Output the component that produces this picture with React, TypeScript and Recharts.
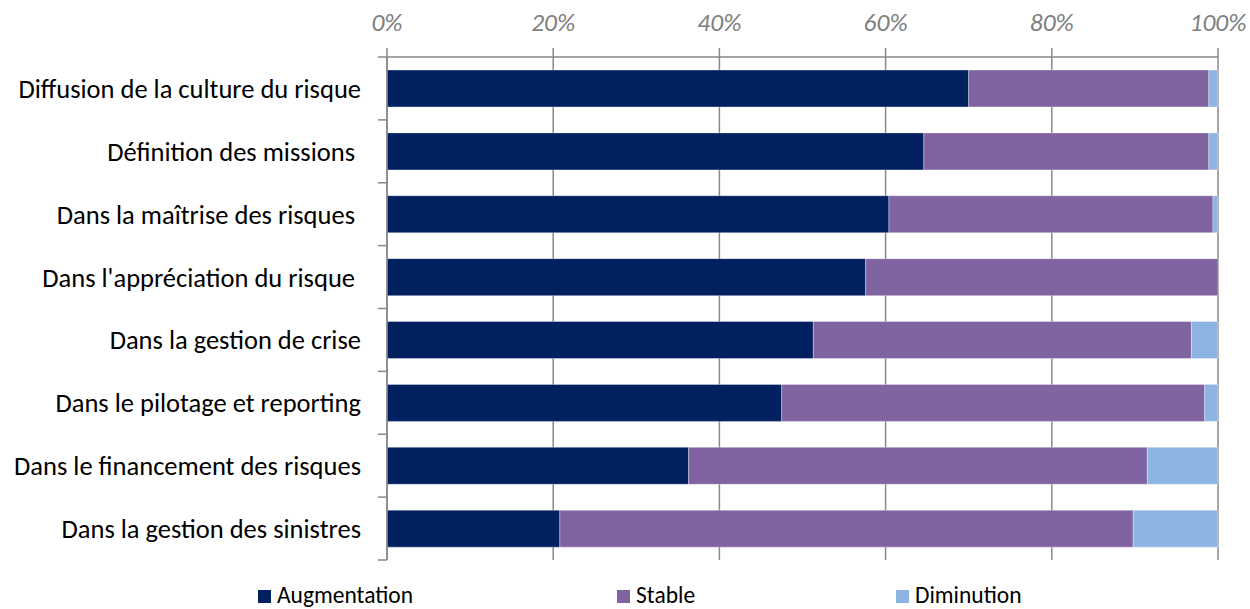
import React from 'react';
import { BarChart, Bar, XAxis, YAxis, CartesianGrid } from 'recharts';

const categories = [
    'Diffusion de la culture du risque',
    'Définition des missions\u00a0',
    'Dans la maîtrise des risques\u00a0',
    "Dans l'appréciation du risque\u00a0",
    'Dans la gestion de crise',
    'Dans le pilotage et reporting',
    'Dans le financement des risques',
    'Dans la gestion des sinistres',
];
const augmentation = [70.0, 64.6, 60.4, 57.6, 51.3, 47.5, 36.3, 20.8];
const stable = [28.9, 34.3, 39.0, 42.4, 45.5, 50.9, 55.2, 69.0];
const diminution = [1.1, 1.1, 0.6, 0, 3.2, 1.6, 8.5, 10.2];
const seriesNames = ['Augmentation', 'Stable', 'Diminution'];
const seriesColors = ['#002060', '#8064A2', '#8EB4E3'];
const xTicks = [0, 20, 40, 60, 80, 100];

const FONT = 'Carlito, Lato, sans-serif';
const AXIS_GREY = '#898989';

const data = categories.map((name, i) => ({
    name,
    a: augmentation[i],
    s: stable[i],
    d: diminution[i],
}));
const keys = ['a', 's', 'd'];

// Excel puts category ticks on the band edges, not centres
const CategoryTick: React.FC<any> = ({ x, y, payload, index, visibleTicksCount }) => {
    const half = payload && payload.offset ? payload.offset : 31.4;
    const axisX = x + 26;
    return (
        <g>
            <line x1={axisX - 9} x2={axisX} y1={y - half} y2={y - half} stroke={AXIS_GREY} strokeWidth={1.5} />
            {index === visibleTicksCount - 1 && (
                <line x1={axisX - 9} x2={axisX} y1={y + half} y2={y + half} stroke={AXIS_GREY} strokeWidth={1.5} />
            )}
            <text x={x} y={y} dy="0.36em" textAnchor="end" fontSize={26.5} fill="#000" fontFamily={FONT}>
                {payload.value}
            </text>
        </g>
    );
};

const legendWidths = [359, 279, 160];

const ChartLegend: React.FC = () => (
    <div style={{ position: 'absolute', left: 258, top: 583, display: 'flex', fontFamily: FONT, fontSize: 23.5, color: '#000' }}>
        {seriesNames.map((n, i) => (
            <div key={n} style={{ width: legendWidths[i], height: 24, display: 'flex', alignItems: 'center' }}>
                <span style={{ width: 13, height: 13, background: seriesColors[i], marginRight: 6, marginTop: 3, display: 'inline-block' }} />
                <span style={{ lineHeight: '24px' }}>{n}</span>
            </div>
        ))}
    </div>
);

export default function App() {
    return (
        <div style={{ position: 'absolute', left: 0, top: 0, width: 1250, height: 609, background: '#fff', overflow: 'hidden' }}>
            <BarChart
                width={1250}
                height={609}
                data={data}
                layout="vertical"
                margin={{ top: 0, right: 32, bottom: 49, left: 0 }}
                barSize={37}
            >
                <CartesianGrid horizontal={false} stroke={AXIS_GREY} strokeWidth={1.5} />
                <XAxis
                    type="number"
                    orientation="top"
                    domain={[0, 100]}
                    ticks={xTicks}
                    height={57}
                    tickSize={9}
                    tickMargin={17}
                    tickFormatter={(v: number) => `${v}%`}
                    tick={{ fill: '#7f7f7f', fontSize: 25.5, fontStyle: 'italic', fontFamily: FONT }}
                    axisLine={{ stroke: AXIS_GREY, strokeWidth: 1.5 }}
                    tickLine={{ stroke: AXIS_GREY, strokeWidth: 1.5 }}
                />
                <YAxis
                    type="category"
                    dataKey="name"
                    width={387}
                    tickSize={9}
                    tickMargin={17}
                    tickLine={false}
                    axisLine={{ stroke: AXIS_GREY, strokeWidth: 1.5 }}
                    tick={<CategoryTick />}
                    interval={0}
                />
                {keys.map((k, i) => (
                    <Bar
                        key={k}
                        dataKey={k}
                        name={seriesNames[i]}
                        stackId="1"
                        fill={seriesColors[i]}
                        stroke="#ffffff"
                        strokeOpacity={0.45}
                        strokeWidth={0.75}
                        isAnimationActive={false}
                    />
                ))}
            </BarChart>
            <ChartLegend />
        </div>
    );
}
